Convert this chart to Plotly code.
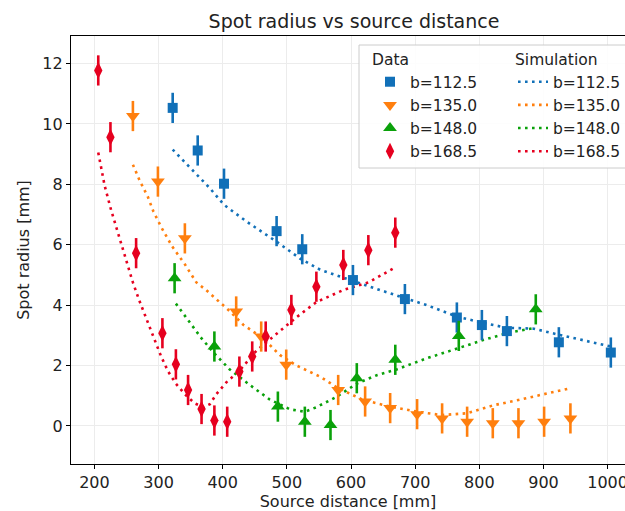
import plotly.graph_objects as go

# ---------------- data ----------------
labels = ["b=112.5", "b=135.0", "b=148.0", "b=168.5"]
colors = ["#1170b8", "#ff7f0e", "#0aa10a", "#e6001f"]
symbols = ["square", "triangle-down", "triangle-up", "diamond-tall"]
marker_sizes = [10, 12, 12, 12]

blue_x = [322, 361, 402, 484, 524, 603, 684, 765, 804, 843, 924, 1005]
blue_y = [10.53, 9.12, 8.02, 6.45, 5.85, 4.83, 4.2, 3.59, 3.34, 3.14, 2.77, 2.43]
orange_x = [260, 299, 341, 421, 460, 499, 580, 622, 661, 703, 742, 781, 821, 861, 901, 942]
orange_y = [10.26, 8.09, 6.21, 3.79, 2.96, 2.03, 1.19, 0.81, 0.59, 0.39, 0.25, 0.14, 0.09, 0.09, 0.14, 0.25]
green_x = [325, 387, 486, 528, 568, 609, 669, 768, 888]
green_y = [4.89, 2.63, 0.64, 0.14, 0.03, 1.58, 2.19, 2.98, 3.86]
red_x = [206, 225, 265, 306, 327, 346, 367, 387, 407, 426, 446, 467, 507, 546, 588, 627, 669]
red_y = [11.77, 9.56, 5.72, 3.07, 2.04, 1.19, 0.56, 0.18, 0.14, 1.8, 2.3, 2.96, 3.84, 4.61, 5.33, 5.82, 6.4]
err = 0.5

sim_blue_x = [322, 342, 367, 380, 402, 437, 484, 520, 552, 583, 614, 645, 677, 718, 765, 804, 843, 885, 924, 1005]
sim_blue_y = [9.15, 8.7, 8.15, 7.87, 7.32, 6.77, 6.1, 5.55, 5.17, 4.94, 4.72, 4.5, 4.28, 4.0, 3.62, 3.42, 3.25, 3.22, 3.02, 2.63]
sim_orange_x = [260, 271, 283, 292, 305, 321, 341, 359, 374, 395, 411, 432, 463, 489, 515, 552, 580, 619, 661, 703, 742, 781, 821, 861, 901, 942]
sim_orange_y = [8.65, 8.1, 7.6, 7.1, 6.55, 5.95, 5.35, 4.75, 4.5, 4.1, 3.8, 3.35, 2.9, 2.35, 2.0, 1.63, 1.25, 0.86, 0.64, 0.47, 0.36, 0.42, 0.68, 0.86, 1.06, 1.25]
sim_green_x = [327, 351, 367, 387, 411, 442, 473, 505, 528, 546, 578, 609, 640, 671, 718, 768, 807, 848, 888]
sim_green_y = [4.05, 3.35, 2.9, 2.4, 1.87, 1.36, 0.88, 0.55, 0.47, 0.62, 0.97, 1.4, 1.68, 1.87, 2.24, 2.58, 2.85, 3.1, 3.25]
sim_red_x = [206, 216, 226, 235, 248, 260, 270, 283, 294, 304, 315, 327, 341, 356, 370, 380, 390, 406, 427, 453, 484, 515, 546, 588, 627, 669]
sim_red_y = [9.05, 7.95, 7.15, 6.5, 5.55, 4.75, 4.15, 3.45, 2.85, 2.3, 1.8, 1.4, 1.05, 0.75, 0.62, 0.72, 1.05, 1.45, 1.85, 2.5, 3.05, 3.6, 4.1, 4.5, 4.75, 5.25]

data_x = [blue_x, orange_x, green_x, red_x]
data_y = [blue_y, orange_y, green_y, red_y]
sim_x = [sim_blue_x, sim_orange_x, sim_green_x, sim_red_x]
sim_y = [sim_blue_y, sim_orange_y, sim_green_y, sim_red_y]

FONT = "DejaVu Sans"
FS = 16
LFS = 15.5
W, H = 625, 511
ML, MR, MT, MB = 71, 0, 36, 47

fig = go.Figure()

for i in range(4):
    fig.add_trace(go.Scatter(
        x=sim_x[i], y=sim_y[i], mode="lines", name=labels[i],
        line=dict(color=colors[i], width=2.6, dash="2.6px,4.4px"),
        legend="legend2", hoverinfo="skip"))

for i in range(4):
    fig.add_trace(go.Scatter(
        x=data_x[i], y=data_y[i], mode="markers", name=labels[i],
        marker=dict(symbol=symbols[i], size=marker_sizes[i], color=colors[i],
                    line=dict(width=0)),
        error_y=dict(type="constant", value=err, color=colors[i], thickness=2.6, width=0),
        legend="legend", hoverinfo="skip"))

plot_w = W - ML - MR
plot_h = H - MT - MB

def px_x(p):
    return (p - ML) / plot_w

def px_y(p):
    return (H - MB - p) / plot_h

# legend frame
fig.add_shape(type="rect", xref="paper", yref="paper",
              x0=px_x(359), x1=px_x(640), y0=px_y(168), y1=px_y(45),
              line=dict(color="#cccccc", width=1), fillcolor="rgba(255,255,255,0.9)",
              layer="above")

axis_common = dict(
    showline=True, linecolor="black", linewidth=1.2,
    ticks="outside", ticklen=4, tickwidth=1, tickcolor="black",
    showgrid=True, gridcolor="#ececec", gridwidth=1,
    zeroline=False, automargin=False, ticklabeloverflow="allow",
    tickfont=dict(family=FONT, size=FS, color="#222"),
)

fig.update_layout(
    width=W, height=H,
    margin=dict(l=ML, r=MR, t=MT, b=MB, autoexpand=False),
    paper_bgcolor="white", plot_bgcolor="white",
    font=dict(family=FONT, size=FS, color="#222"),
    title=dict(text="Spot radius vs source distance", x=354 / W, xref="container",
               xanchor="center", y=1 - 21 / H, yref="container", yanchor="middle",
               font=dict(family=FONT, size=19, color="#222")),
    xaxis=dict(range=[163.5, 1027.1], tickvals=[200, 300, 400, 500, 600, 700, 800, 900, 1000],
               title=dict(text="Source distance [mm]", font=dict(family=FONT, size=FS), standoff=2),
               mirror=True, **axis_common),
    yaxis=dict(range=[-1.26, 12.91], tickvals=[0, 2, 4, 6, 8, 10, 12],
               title=dict(text="Spot radius [mm]", font=dict(family=FONT, size=FS), standoff=8),
               mirror=False, **axis_common),
    legend=dict(title=dict(text="Data", font=dict(family=FONT, size=LFS), side="top"),
                x=px_x(370), xanchor="left", y=px_y(45), yanchor="top",
                bgcolor="rgba(0,0,0,0)", borderwidth=0,
                font=dict(family=FONT, size=LFS, color="#222"), traceorder="normal"),
    legend2=dict(title=dict(text="Simulation", font=dict(family=FONT, size=LFS), side="top"),
                 x=px_x(513), xanchor="left", y=px_y(45), yanchor="top",
                 bgcolor="rgba(0,0,0,0)", borderwidth=0,
                 font=dict(family=FONT, size=LFS, color="#222"), traceorder="normal"),
    showlegend=True,
)

fig.write_html("out.html", config={"displayModeBar": False},
               post_script="document.body.style.margin='0';")
